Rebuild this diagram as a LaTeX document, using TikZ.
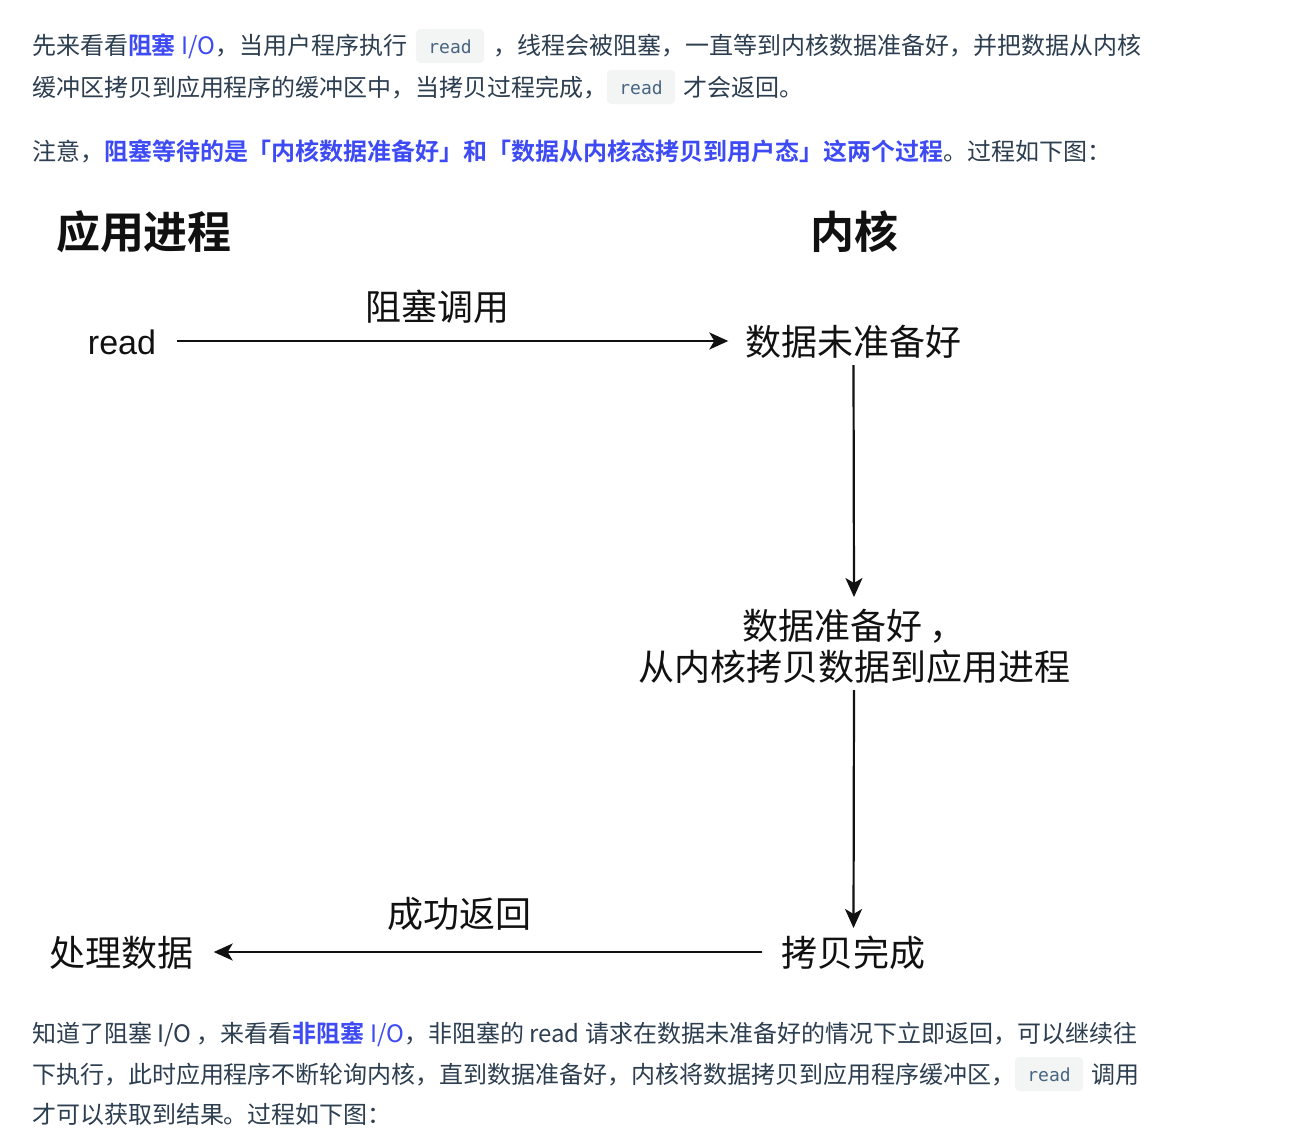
\documentclass[tikz,border=0pt]{standalone}
\usepackage{fontspec}
\setmainfont{Noto Sans CJK SC}[BoldFont={Noto Sans CJK SC Bold}]
\setmonofont{DejaVu Sans Mono}
\newfontfamily\arialf{Liberation Sans}
\usetikzlibrary{arrows.meta}
\definecolor{txt}{HTML}{2C3E50}
\definecolor{blu}{HTML}{3E4BF5}
\definecolor{codebg}{HTML}{F3F4F4}
\definecolor{codefg}{HTML}{476582}
\definecolor{ink}{HTML}{111111}
\newcommand{\hl}[1]{{\bfseries\color{blu}#1}}
\newcommand{\hlr}[1]{{\color{blu}#1}}
\begin{document}
\begin{tikzpicture}[x=1pt,y=-1pt,
  body/.style={anchor=base west,inner sep=0pt,outer sep=0pt,text=txt,font=\fontsize{24}{28}\selectfont},
  codebox/.style={fill=codebg,draw=none,rounded corners=4pt},
  codetxt/.style={inner sep=0pt,text=codefg,font=\ttfamily\fontsize{18}{22}\selectfont},
  head/.style={inner sep=0pt,text=ink,font=\bfseries\fontsize{44}{50}\selectfont},
  dlabel/.style={inner sep=0pt,text=ink,font=\fontsize{36}{41}\selectfont,align=center},
  arr/.style={draw=ink,line width=2.2pt,-{Stealth[length=19pt,width=17pt,inset=5pt]}}]
\useasboundingbox[fill=white] (0,0) rectangle (1296,1146);

% ---- top paragraph ----
\node[body] (t1a) at (32,54) {先来看看\hl{阻塞}\hlr{\ I/O}，当用户程序执行};
\fill[codebox] (416,29) rectangle (484,63);
\node[codetxt] (c1) at (450,46.5) {read};
\node[body] (t1b) at (493,54) {，线程会被阻塞，一直等到内核数据准备好，并把数据从内核};

\node[body] (t2a) at (32,96) {缓冲区拷贝到应用程序的缓冲区中，当拷贝过程完成，};
\fill[codebox] (607,70) rectangle (675,104);
\node[codetxt] (c2) at (641,87.5) {read};
\node[body] (t2b) at (683,96) {才会返回。};

\node[body] (t3) at (32,160) {注意，\hl{阻塞等待的是「内核数据准备好」和「数据从内核态拷贝到用户态」这两个过程}。过程如下图：};

% ---- diagram ----
\node[head] (app) at (144,232) {应用进程};
\node[head] (ker) at (854,232) {内核};

\node[inner sep=0pt,text=ink,font=\arialf\fontsize{34}{40}\selectfont] (read) at (122,342) {read};
\node[dlabel] (notready) at (853.5,342) {数据未准备好};
\node[dlabel] (ready) at (854,646.5) {数据准备好\kern8pt，\\从内核拷贝数据到应用进程};
\node[dlabel] (done) at (853.5,953) {拷贝完成};
\node[dlabel] (proc) at (121.5,953) {处理数据};

\node[dlabel] (l1) at (437,307) {阻塞调用};
\node[dlabel] (l2) at (459,914) {成功返回};

\draw[arr] ([xshift=21pt]read.east |- 0,341) -- ([xshift=-17pt]notready.west |- 0,341);
\draw[arr] (notready.south |- 0,365) -- (ready.north |- 0,597);
\draw[arr] (ready.south |- 0,690) -- (done.north |- 0,928);
\draw[arr] ([xshift=-19pt]done.west |- 0,952) -- ([xshift=20pt]proc.east |- 0,952);

% ---- bottom paragraph ----
\node[body] (b1) at (32,1042) {知道了阻塞 I/O ，来看看\hl{非阻塞}\hlr{\ I/O}，非阻塞的 read 请求在数据未准备好的情况下立即返回，可以继续往};
\node[body] (b2) at (32,1083) {下执行，此时应用程序不断轮询内核，直到数据准备好，内核将数据拷贝到应用程序缓冲区，};
\fill[codebox] (1015,1057) rectangle (1083,1091);
\node[codetxt] (c3) at (1049,1074.5) {read};
\node[body] (b2b) at (1091,1083) {调用};
\node[body] (b3) at (32,1123) {才可以获取到结果。过程如下图：};
\end{tikzpicture}
\end{document}
